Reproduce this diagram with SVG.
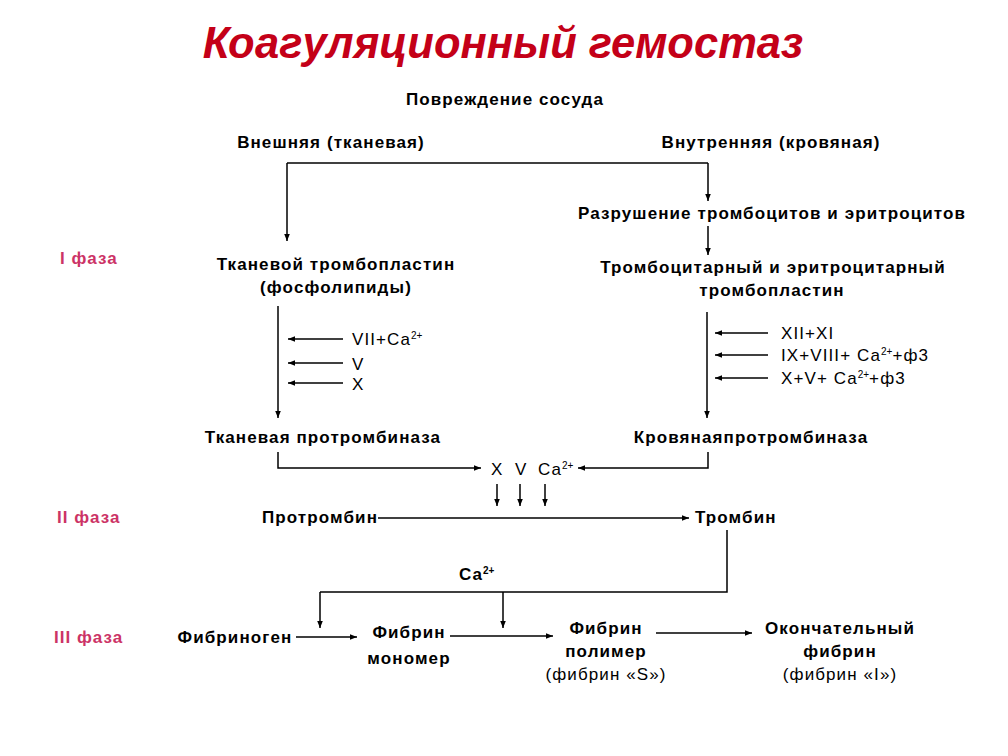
<svg xmlns="http://www.w3.org/2000/svg" width="1008" height="756" viewBox="0 0 1008 756">
<defs>
<marker id="ah" viewBox="0 0 10 10" refX="10" refY="5" markerWidth="7" markerHeight="7" markerUnits="userSpaceOnUse" orient="auto">
<path d="M0,1 L10,5 L0,9 Z" fill="#000"/>
</marker>
</defs>
<style>
text{font-family:"Liberation Sans",Arial,sans-serif;fill:#000;}
.b{font-size:17px;font-weight:bold;letter-spacing:1.1px;}
.r{font-size:17px;letter-spacing:1.1px;}
.c{text-anchor:middle;}
.ph{font-size:17px;font-weight:bold;letter-spacing:1px;fill:#cc3366;}
.sup{font-size:10px;letter-spacing:0;}
.ln{stroke:#000;stroke-width:1.5;fill:none;}
.ar{stroke:#000;stroke-width:1.5;fill:none;marker-end:url(#ah);}
</style>
<rect width="1008" height="756" fill="#fff"/>
<text x="503" y="58" text-anchor="middle" style="font-size:43.5px;font-weight:bold;font-style:italic;fill:#c40018;">Коагуляционный гемостаз</text>

<g id="phase1"><text class="ph" x="60" y="264">I фаза</text></g>
<g id="phase2"><text class="ph" x="57" y="523">II фаза</text></g>
<g id="phase3"><text class="ph" x="54" y="643">III фаза</text></g>

<g id="damage"><text class="b c" x="505" y="105">Повреждение сосуда</text></g>
<g id="extrinsic"><text class="b c" x="331" y="148">Внешняя (тканевая)</text></g>
<g id="intrinsic"><text class="b c" x="771" y="148">Внутренняя (кровяная)</text></g>
<g id="destruction"><text class="b c" x="772" y="219">Разрушение тромбоцитов и эритроцитов</text></g>
<g id="tissue-tp"><text class="b c" x="336" y="270">Тканевой тромбопластин</text><text class="b c" x="336" y="293">(фосфолипиды)</text></g>
<g id="blood-tp"><text class="b c" x="773" y="273">Тромбоцитарный и эритроцитарный</text><text class="b c" x="772" y="296">тромбопластин</text></g>

<g id="factors-left">
<text class="r" x="352" y="345">VII+Ca<tspan class="sup" dy="-6">2+</tspan></text>
<text class="r" x="352" y="370">V</text>
<text class="r" x="352" y="390">X</text>
</g>
<g id="factors-right">
<text class="r" x="781" y="339">XII+XI</text>
<text class="r" x="781" y="361">IX+VIII+ Ca<tspan class="sup" dy="-6">2+</tspan><tspan dy="6">+ф3</tspan></text>
<text class="r" x="781" y="384">X+V+ Ca<tspan class="sup" dy="-6">2+</tspan><tspan dy="6">+ф3</tspan></text>
</g>

<g id="tissue-ptase"><text class="b c" x="323" y="443">Тканевая протромбиназа</text></g>
<g id="blood-ptase"><text class="b c" x="751" y="443">Кровянаяпротромбиназа</text></g>
<g id="xvca"><text class="r" x="491" y="475">X</text><text class="r" x="515" y="475">V</text><text class="r" x="538" y="475">Ca<tspan class="sup" dy="-6">2+</tspan></text></g>

<g id="prothrombin"><text class="b" x="262" y="523">Протромбин</text></g>
<g id="thrombin"><text class="b" x="695" y="523">Тромбин</text></g>
<g id="ca"><text class="b" x="459" y="580">Ca<tspan class="sup" dy="-6">2+</tspan></text></g>

<g id="fibrinogen"><text class="b c" x="235" y="643">Фибриноген</text></g>
<g id="monomer"><text class="b c" x="409" y="638">Фибрин</text><text class="b c" x="409" y="664">мономер</text></g>
<g id="polymer"><text class="b c" x="606" y="634">Фибрин</text><text class="b c" x="606" y="657">полимер</text><text class="r c" x="606" y="680">(фибрин «S»)</text></g>
<g id="final"><text class="b c" x="840" y="634">Окончательный</text><text class="b c" x="840" y="657">фибрин</text><text class="r c" x="840" y="680">(фибрин «I»)</text></g>

<g id="connectors">
<path class="ln" d="M287,163 H708"/>
<path class="ar" d="M287,163 V241"/>
<path class="ar" d="M708,163 V201"/>
<path class="ar" d="M708,226 V255"/>
<path class="ar" d="M278,306 V418"/>
<path class="ar" d="M707,312 V418"/>
<path class="ar" d="M343,339 H288"/>
<path class="ar" d="M343,363 H288"/>
<path class="ar" d="M343,383 H288"/>
<path class="ar" d="M768,333 H715"/>
<path class="ar" d="M768,355 H715"/>
<path class="ar" d="M768,378 H715"/>
<path class="ar" d="M278,452 V468 H481"/>
<path class="ar" d="M708,452 V468 H578"/>
<path class="ar" d="M497,484 V506"/>
<path class="ar" d="M520,484 V506"/>
<path class="ar" d="M545,484 V506"/>
<path class="ar" d="M378,518 H689"/>
<path class="ln" d="M727,530 V592 H320"/>
<path class="ar" d="M320,592 V628"/>
<path class="ar" d="M503,592 V628"/>
<path class="ar" d="M296,637 H357"/>
<path class="ar" d="M450,636 H553"/>
<path class="ar" d="M656,633 H752"/>
</g>
</svg>
